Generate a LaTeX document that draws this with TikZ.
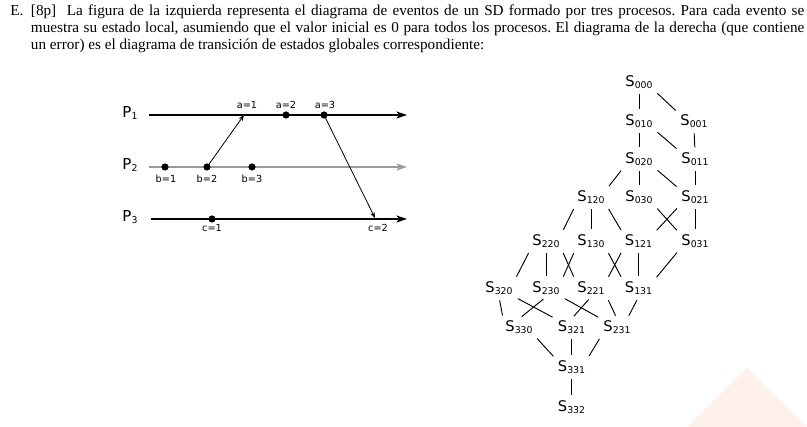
\documentclass[tikz,border=0pt]{standalone}
\usepackage{fontspec}
\setmainfont{Liberation Serif}
\newfontfamily\djv{DejaVu Sans}
\usetikzlibrary{arrows.meta}
\definecolor{paleorange}{RGB}{254,240,234}
\newcommand\lowidx[1]{\raisebox{-1.2pt}{\fontsize{7}{7}\selectfont #1}}
\frenchspacing

\begin{document}
\begin{tikzpicture}[x=0.75pt,y=-0.75pt,
    para/.style={anchor=base west,inner sep=0pt,font=\fontsize{11.4}{12.75}\selectfont},
    state/.style={font=\djv\fontsize{11}{11}\selectfont,inner sep=1.5pt,anchor=base},
    proc/.style={font=\djv\fontsize{11.3}{11.3}\selectfont,inner sep=0pt},
    evlabel/.style={font=\djv\fontsize{7.3}{7.3}\selectfont,inner sep=0pt},
    timeline/.style={-{Stealth[length=8pt,width=5.3pt,inset=2.2pt]},line width=0.9pt},
    msg/.style={-{Stealth[length=4.5pt,width=3.4pt]},line width=0.6pt,shorten <=-2pt},
    event/.style={circle,fill,inner sep=0pt,minimum size=5.4pt},
    trans/.style={line width=0.7pt,shorten <=2.6pt,shorten >=2.6pt}]
\fill[white] (0,0) rectangle (807,427);
\useasboundingbox (0,0) rectangle (807,427);
%\draw [help lines,step=50] (0,0) grid (807,427);
\fill[paleorange] (687,427) -- (747,368) -- (807,427) -- cycle;

% statement
\node[para] (enum) at (10,15.7) {E.};
\node[para] (line1) at (30.7,15.7) {\makebox[580pt][s]{[8p]\ \ La figura de la izquierda representa el diagrama de eventos de un SD formado por tres procesos. Para cada evento se}};
\node[para] (line2) at (30.7,32.7) {\makebox[580pt][s]{muestra su estado local, asumiendo que el valor inicial es 0 para todos los procesos. El diagrama de la derecha (que contiene}};
\node[para] (line3) at (30.7,49.7) {un error) es el diagrama de transición de estados globales correspondiente:};

% event diagram
\node[proc] (p1) at (130,113) {P\lowidx{1}};
\node[proc] (p2) at (130,165) {P\lowidx{2}};
\node[proc] (p3) at (130,217) {P\lowidx{3}};
\coordinate (p1start) at (149,115);
\coordinate (p1end) at (407,115);
\coordinate (p2start) at (149,167);
\coordinate (p2end) at (407,167);
\coordinate (p3start) at (151,219);
\coordinate (p3end) at (407,219);
\draw[timeline] (p1start) -- (p1end);
\draw[timeline,gray!80] (p2start) -- (p2end);
\draw[timeline] (p3start) -- (p3end);

\coordinate (a1) at (244,115);
\node[event] (a2) at (286,115) {};
\node[event] (a3) at (324,115) {};
\node[event] (b1) at (165,167) {};
\node[event] (b2) at (207,167) {};
\node[event] (b3) at (252,167) {};
\node[event] (c1) at (212,219) {};
\coordinate (c2) at (375,218);

\node[evlabel] (a1lbl) at (247,105) {a=1};
\node[evlabel] (a2lbl) at (286,105) {a=2};
\node[evlabel] (a3lbl) at (325,105) {a=3};
\node[evlabel] (b1lbl) at (166,179) {b=1};
\node[evlabel] (b2lbl) at (207,179) {b=2};
\node[evlabel] (b3lbl) at (252,179) {b=3};
\node[evlabel] (c1lbl) at (212,228) {c=1};
\node[evlabel] (c2lbl) at (378,228) {c=2};

\draw[msg] (b2) -- (a1);
\draw[msg] (a3) -- (c2);

% global states
\node[state] (s000) at (639,87) {S\lowidx{000}};
\node[state] (s010) at (639,126) {S\lowidx{010}};
\node[state] (s001) at (694,126) {S\lowidx{001}};
\node[state] (s020) at (639,164) {S\lowidx{020}};
\node[state] (s011) at (695,164) {S\lowidx{011}};
\node[state] (s120) at (591,202) {S\lowidx{120}};
\node[state] (s030) at (639,202) {S\lowidx{030}};
\node[state] (s021) at (695,202) {S\lowidx{021}};
\node[state] (s220) at (546,246) {S\lowidx{220}};
\node[state] (s130) at (591,246) {S\lowidx{130}};
\node[state] (s121) at (638.5,246) {S\lowidx{121}};
\node[state] (s031) at (695,246) {S\lowidx{031}};
\node[state] (s320) at (499,293) {S\lowidx{320}};
\node[state] (s230) at (546,293) {S\lowidx{230}};
\node[state] (s221) at (591,293) {S\lowidx{221}};
\node[state] (s131) at (638.5,293) {S\lowidx{131}};
\node[state] (s330) at (519,332) {S\lowidx{330}};
\node[state] (s321) at (571.5,332) {S\lowidx{321}};
\node[state] (s231) at (617,332) {S\lowidx{231}};
\node[state] (s331) at (571.5,372) {S\lowidx{331}};
\node[state] (s332) at (571.5,412) {S\lowidx{332}};

\draw[trans] (s000.south) -- (s010.north);
\draw[trans] (s000.south east) -- (s001.north west);
\draw[trans] (s010.south) -- (s020.north);
\draw[trans] (s010.south east) -- (s011.north west);
\draw[trans] (s001.south) -- (s011.north);
\draw[trans] (s020.south west) -- (s120.north east);
\draw[trans] (s020.south) -- (s030.north);
\draw[trans] (s020.south east) -- (s021.north west);
\draw[trans] (s011.south) -- (s021.north);
\draw[trans] (s120.south west) -- (s220.north east);
\draw[trans] (s120.south) -- (s130.north);
\draw[trans] (s120.south east) -- (s121.north west);
\draw[trans] (s030.south east) -- (s031.north west);
\draw[trans] (s021.south west) -- (s121.north east);
\draw[trans] (s021.south) -- (s031.north);
\draw[trans] (s220.south west) -- (s320.north east);
\draw[trans] (s220.south) -- (s230.north);
\draw[trans] (s220.south east) -- (s221.north west);
\draw[trans] (s130.south west) -- (s230.north east);
\draw[trans] (s130.south east) -- (s131.north west);
\draw[trans] (s121.south west) -- (s221.north east);
\draw[trans] (s121.south) -- (s131.north);
\draw[trans] (s031.south west) -- (s131.north east);
\draw[trans] (s320.south) -- (s330.north west);
\draw[trans] (s320.south east) -- (s321.north west);
\draw[trans] (s230.south) -- (s330.north);
\draw[trans] (s230.south east) -- (s231.north west);
\draw[trans] (s221.south) -- (s321.north);
\draw[trans] (s221.south east) -- (s231.north);
\draw[trans] (s131.south) -- (s231.40);
\draw[trans] (s330.south east) -- (s331.north west);
\draw[trans] (s321.south) -- (s331.north);
\draw[trans] (s231.south west) -- (s331.north east);
\draw[trans] (s331.south) -- (s332.north);
\end{tikzpicture}
\end{document}
